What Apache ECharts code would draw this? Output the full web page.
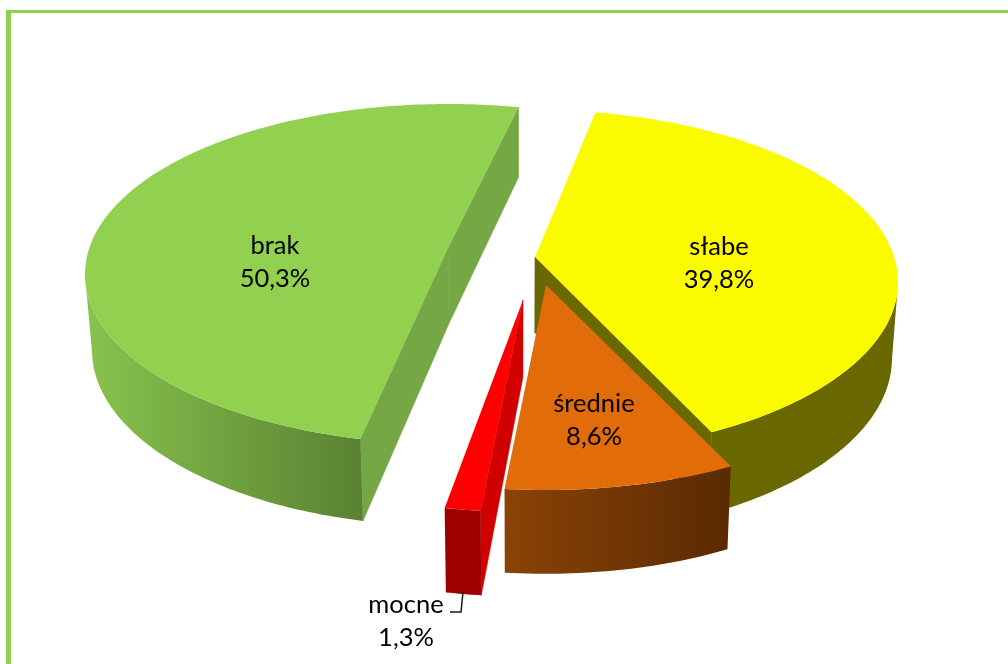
<!DOCTYPE html>
<html><head><meta charset="utf-8">
<style>html,body{margin:0;padding:0;background:#fff}#c{width:1008px;height:664px}</style>
<script src="https://cdn.jsdelivr.net/npm/echarts@6/dist/echarts.min.js"></script>
</head><body><div id="c"></div>
<script>
// Data
const categories = ['słabe', 'średnie', 'mocne', 'brak'];
const shares = [39.8, 8.6, 1.3, 50.3];
const shareLabels = ['39,8%', '8,6%', '1,3%', '50,3%'];

// Pie layout: a tilted, exploded 3D pie (projected from the shares)
const startAngle = 11.2;
const radiusX = 363;
const radiusY = [172, 170, 172, 170];
const angleNudge = [0, 0, 0, 2.0];                                  // perspective correction per slice
const apexes = [[535, 257], [546, 285], [523, 300], [448, 248]];   // exploded slice tips
const rimDrop = [25, 35, 40, 26];                                   // perspective drop of the ellipse centre
const labelAt = [[719, 263], [594, 420], [406, 621], [275, 262]];
const topColors = ['#fbfb00', '#e26b0a', '#ff0000', '#92d050'];
const cutColors = ['#6a6800', '#6a3000', '#d00000', '#76a745'];
const wallStops = [
  ['#6a6800', '#686700'],
  ['#8a4306', '#5a2a03'],
  ['#9e0000', '#9e0000'],
  ['#88c34e', '#5a8233']
];

function rimPoint(i, deg) {
  const a = deg * Math.PI / 180, ry = radiusY[i], s = rimDrop[i] / ry;
  const dx = Math.sin(a), dy = -Math.cos(a);
  const b = -s * dy, c = s * s - 1;
  const t = -b + Math.sqrt(b * b - c);
  return [apexes[i][0] + t * dx * radiusX, apexes[i][1] + t * dy * ry];
}
function lower(p) {
  return [520 + (p[0] - 520) * 0.984, p[1] + 70 + 0.036 * (p[1] - 107)];
}
function cutWall(p, q, fill) {
  return { type: 'polygon', shape: { points: [p, q, lower(q), lower(p)] },
    style: { fill: fill, stroke: fill, lineWidth: 0.6 } };
}

function renderSlice(params) {
  const i = params.dataIndex;
  let from = startAngle + angleNudge[i];
  for (let k = 0; k < i; k++) from += shares[k] * 3.6;
  const to = from + shares[i] * 3.6;
  const rim = [];
  const n = Math.max(8, Math.ceil(to - from));
  for (let k = 0; k <= n; k++) rim.push(rimPoint(i, from + (to - from) * k / n));
  const apex = apexes[i];
  const children = [];
  // cut faces that look towards the viewer
  const sa = Math.sin(from * Math.PI / 180), ea = Math.sin(to * Math.PI / 180);
  if (sa < 0) children.push(cutWall(apex, rim[0], cutColors[i]));
  if (ea > 0) children.push(cutWall(apex, rim[n], cutColors[i]));
  // outer wall: front half of the rim only
  const front = rim.filter(p => p[1] >= apex[1] + rimDrop[i]);
  if (front.length > 1) {
    const xs = front.map(p => p[0]);
    children.push({
      type: 'polygon',
      shape: { points: front.concat(front.map(lower).reverse()) },
      style: { fill: { type: 'linear', global: true,
        x: Math.min.apply(null, xs), y: 0, x2: Math.max.apply(null, xs), y2: 0,
        colorStops: [{ offset: 0, color: wallStops[i][0] }, { offset: 1, color: wallStops[i][1] }] } }
    });
  }
  // top face
  children.push({ type: 'polygon', shape: { points: [apex].concat(rim) }, style: { fill: topColors[i] } });
  // label
  children.push({
    type: 'text', z2: 100,
    style: { x: labelAt[i][0], y: labelAt[i][1], text: categories[i] + '\n' + shareLabels[i],
      align: 'center', verticalAlign: 'middle', fill: '#000',
      font: '25.5px Lato', lineHeight: 33 }
  });
  if (categories[i] === 'mocne') {
    children.push({ type: 'polyline', shape: { points: [[463, 592], [461, 612], [450, 612]] },
      style: { stroke: '#1a1a1a', lineWidth: 1.5, fill: null } });
  }
  return { type: 'group', children };
}

const chart = echarts.init(document.getElementById('c'), null, { renderer: 'canvas' });
chart.setOption({
  animation: false,
  backgroundColor: '#ffffff',
  graphic: [
    { type: 'rect', shape: { x: 6, y: 10, width: 1002, height: 3 }, style: { fill: '#92d050' } },
    { type: 'rect', shape: { x: 6, y: 10, width: 5, height: 654 }, style: { fill: '#92d050' } }
  ],
  series: [{
    type: 'custom',
    coordinateSystem: 'none',
    renderItem: renderSlice,
    data: categories.map((name, i) => ({ name, value: shares[i] }))
  }]
});
</script></body></html>
